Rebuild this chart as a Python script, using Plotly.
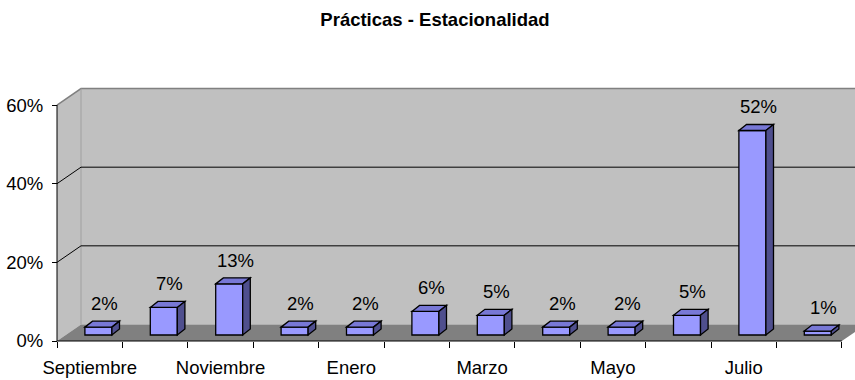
import plotly.graph_objects as go

# Monthly share of internships ("prácticas"), September to August
months = ["Septiembre", "Octubre", "Noviembre", "Diciembre", "Enero", "Febrero",
          "Marzo", "Abril", "Mayo", "Junio", "Julio", "Agosto"]
shares = [2, 7, 13, 2, 2, 6, 5, 2, 2, 5, 52, 1]
y_ticks = [0, 20, 40, 60]
y_tick_text = ["0%", "20%", "40%", "60%"]
x_label_every = 2

# Pixel scale of the front plane (used to express the pseudo-3D depth in data units)
PX_X = 65.4   # pixels per category
PX_Y = 3.933  # pixels per percentage point
W, H = 855, 380
M_L, M_R, M_T, M_B = 50, 0, 85, 30

WALL_DX, WALL_DY = 24 / PX_X, 16.5 / PX_Y
BAR_OFF_X, BAR_BASE = 8.7 / PX_X, 6 / PX_Y
BAR_W = 27 / PX_X
BAR_DX, BAR_DY = 7.6 / PX_X, 6 / PX_Y

n = len(months)
top = max(y_ticks)
x_lo = -(57 - M_L) / PX_X
x_hi = x_lo + (W - M_L - M_R) / PX_X
y_lo = -(H - M_B - 341) / PX_Y
y_hi = y_lo + (H - M_T - M_B) / PX_Y

FONT = "Liberation Sans, Arial, sans-serif"
FS = 18.5
WALL = "#C0C0C0"
FLOOR = "#808080"
EDGE = "#808080"
FRONT = "#9999FF"
TOPC = "#7878D6"
SIDE = "#4F4F8E"

shapes = []
# side wall, back wall, floor
shapes.append(dict(type="path", layer="below", xref="x", yref="y",
                   path=f"M 0,0 L {WALL_DX},{WALL_DY} L {WALL_DX},{top + WALL_DY} L 0,{top} Z",
                   fillcolor=WALL, line=dict(width=0)))
shapes.append(dict(type="rect", layer="below", xref="x", yref="y",
                   x0=WALL_DX, x1=n + WALL_DX, y0=WALL_DY, y1=top + WALL_DY,
                   fillcolor=WALL, line=dict(width=0)))
shapes.append(dict(type="path", layer="below", xref="x", yref="y",
                   path=f"M 0,0 L {n},0 L {n + WALL_DX},{WALL_DY} L {WALL_DX},{WALL_DY} Z",
                   fillcolor=FLOOR, line=dict(width=0)))
# wall edges
shapes.append(dict(type="path", layer="below", xref="x", yref="y",
                   path=f"M 0,{top} L {WALL_DX},{top + WALL_DY} L {n + WALL_DX},{top + WALL_DY}",
                   line=dict(color=EDGE, width=1.5)))
shapes.append(dict(type="line", layer="below", xref="x", yref="y",
                   x0=WALL_DX, x1=WALL_DX, y0=WALL_DY, y1=top + WALL_DY,
                   line=dict(color="#A0A0A0", width=1)))
# gridlines
for g in y_ticks[1:-1]:
    shapes.append(dict(type="path", layer="below", xref="x", yref="y",
                       path=f"M 0,{g} L {WALL_DX},{g + WALL_DY} L {n + WALL_DX},{g + WALL_DY}",
                       line=dict(color="black", width=1)))
# axis lines on the front plane
shapes.append(dict(type="line", layer="below", xref="x", yref="y",
                   x0=0, x1=0, y0=0, y1=top, line=dict(color="black", width=1)))
shapes.append(dict(type="line", layer="below", xref="x", yref="y",
                   x0=0, x1=n, y0=0, y1=0, line=dict(color="black", width=1)))

# top and side faces of each bar
centers = [i + 0.5 + BAR_OFF_X for i in range(n)]
for c, v in zip(centers, shares):
    xl, xr = c - BAR_W / 2, c + BAR_W / 2
    t = BAR_BASE + v
    shapes.append(dict(type="path", xref="x", yref="y",
                       path=(f"M {xl},{t} L {xl + BAR_DX},{t + BAR_DY} "
                             f"L {xr + BAR_DX},{t + BAR_DY} L {xr},{t} Z"),
                       fillcolor=TOPC, line=dict(color="black", width=1.3)))
    shapes.append(dict(type="path", xref="x", yref="y",
                       path=(f"M {xr},{BAR_BASE} L {xr},{t} L {xr + BAR_DX},{t + BAR_DY} "
                             f"L {xr + BAR_DX},{BAR_BASE + BAR_DY} Z"),
                       fillcolor=SIDE, line=dict(color="black", width=1.3)))

annotations = []
for c, v in zip(centers, shares):
    annotations.append(dict(x=c + BAR_DX / 2, y=BAR_BASE + v + BAR_DY, xref="x", yref="y",
                            text=f"{v}%", showarrow=False, yanchor="bottom", yshift=5,
                            xshift=2, font=dict(family=FONT, size=FS, color="black")))

fig = go.Figure()
fig.add_trace(go.Bar(
    x=centers, y=shares, base=BAR_BASE, width=BAR_W,
    marker=dict(color=FRONT, line=dict(color="black", width=1.3)),
    hoverinfo="skip", showlegend=False,
))

fig.update_layout(
    width=W, height=H,
    margin=dict(l=M_L, r=M_R, t=M_T, b=M_B),
    paper_bgcolor="white", plot_bgcolor="rgba(0,0,0,0)",
    title=dict(text="Prácticas - Estacionalidad", x=435 / W, xanchor="center",
               y=1 - 20 / H, yanchor="middle", yref="container",
               font=dict(family="Liberation Sans, Arial, sans-serif", size=18.5,
                         weight="bold", color="black")),
    xaxis=dict(range=[x_lo, x_hi], anchor="free", position=(H - M_B - 341) / (H - M_T - M_B),
               tickvals=[i + 0.5 for i in range(0, n, x_label_every)],
               ticktext=months[::x_label_every], ticks="", showgrid=False, zeroline=False,
               showline=False, ticklabelstandoff=13,
               tickfont=dict(family=FONT, size=FS, color="black"),
               minor=dict(tickvals=list(range(n + 1)), ticks="outside", ticklen=6,
                          tickcolor="black", tickwidth=1, showgrid=False)),
    yaxis=dict(range=[y_lo, y_hi], anchor="free", position=(57 - M_L) / (W - M_L - M_R),
               tickvals=y_ticks, ticktext=y_tick_text, ticks="outside", ticklen=5,
               tickcolor="black", showgrid=False, zeroline=False, showline=False,
               ticklabelstandoff=5,
               tickfont=dict(family=FONT, size=FS, color="black")),
    shapes=shapes, annotations=annotations,
)

fig.write_html("out.html")
